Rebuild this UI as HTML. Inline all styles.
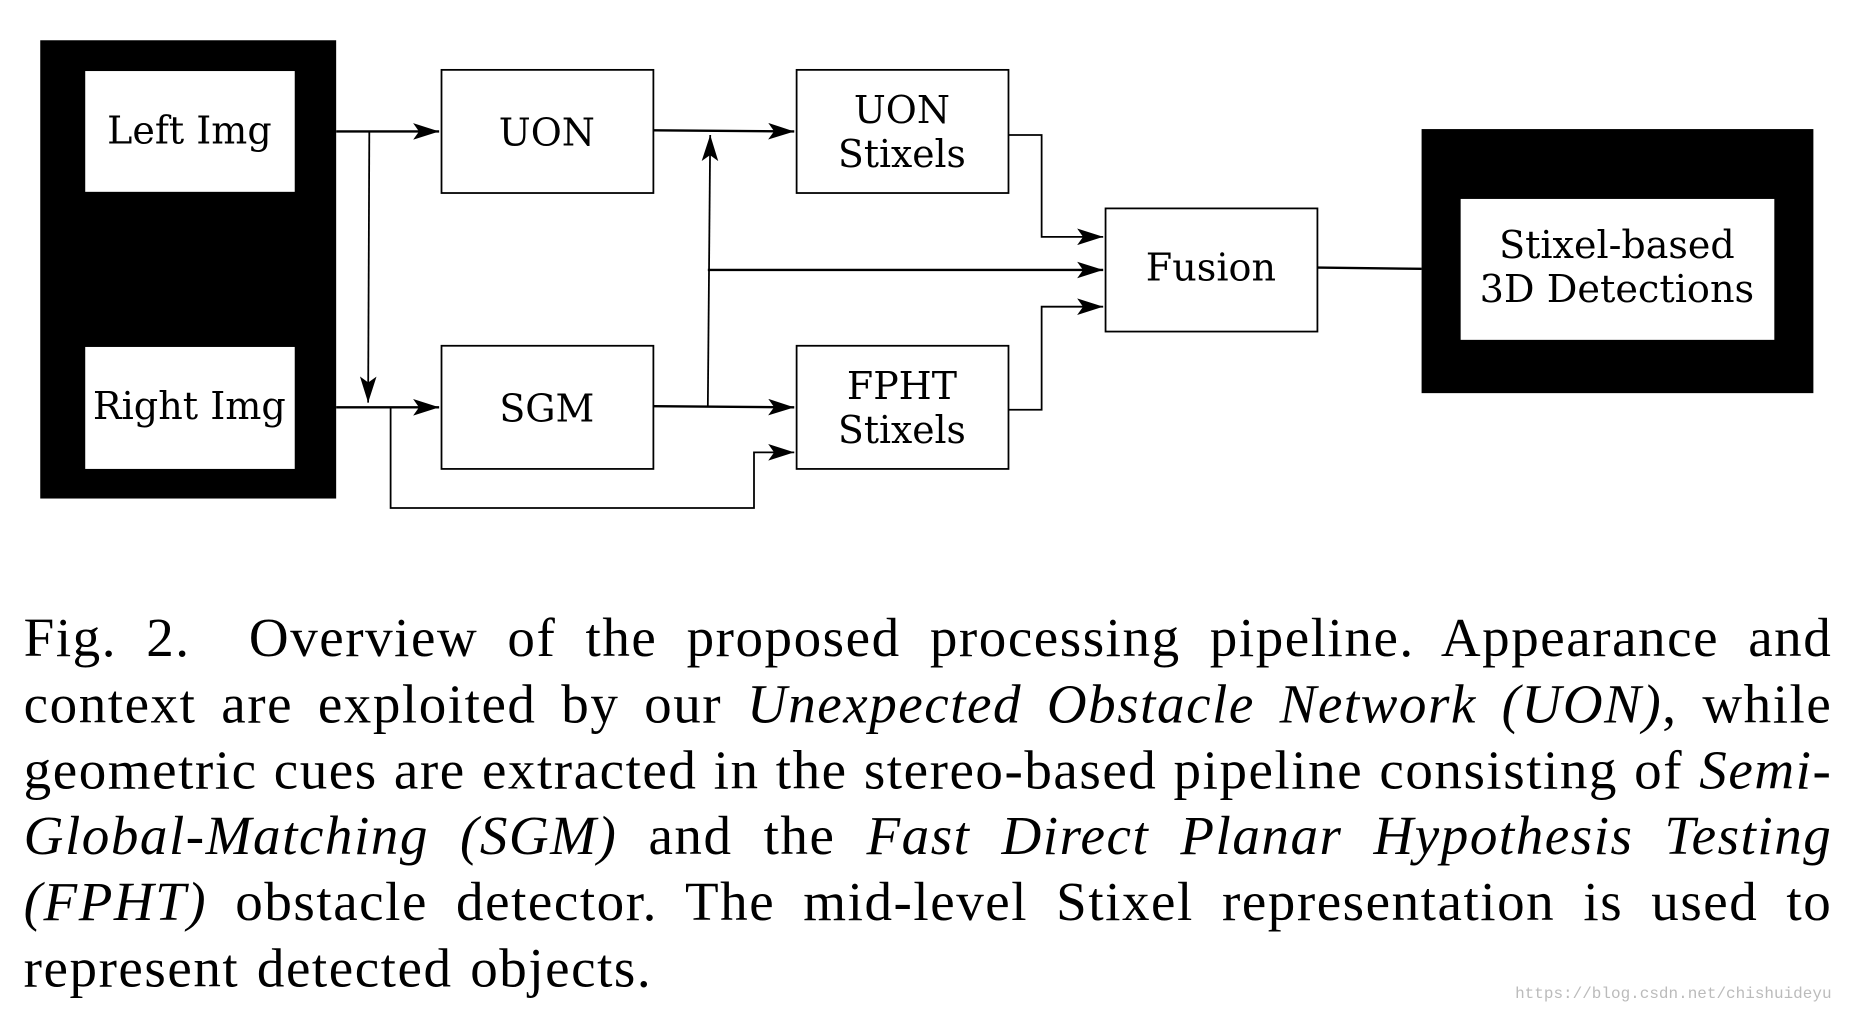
<!DOCTYPE html>
<html><head><meta charset="utf-8"><style>
html,body{margin:0;padding:0;background:#fff;overflow:hidden}
#wrap{position:absolute;left:0;top:0;width:1568px;height:858px;transform:scale(1.18367,1.18415);transform-origin:0 0}
#cap{position:absolute;left:20px;top:512px;width:1528px;font-family:"Liberation Serif",serif;font-size:46.5px;line-height:55.8px;color:#000;letter-spacing:1.3px}
#cap div{text-align:justify;text-align-last:justify;white-space:nowrap;height:55.8px}
#cap div.last{text-align:left;text-align-last:left;word-spacing:2px}
#wm{position:absolute;left:1280px;top:833px;font-family:"Liberation Mono",monospace;font-size:13.5px;color:#bbb}
</style></head><body><div id="wrap">
<svg width="1568" height="858" viewBox="0 0 1568 858" style="position:absolute;left:0;top:0">
<defs>
<marker id="b" markerWidth="22" markerHeight="14" refX="22" refY="7" orient="auto" markerUnits="userSpaceOnUse" viewBox="0 0 22 14"><path d="M0,0 L22,7 L0,14 L5,7 z" fill="#000"/></marker></defs>
<rect x="34" y="34" width="250" height="387" fill="#000"/>
<rect x="72" y="60" width="177" height="102" fill="#fff"/>
<rect x="72" y="293" width="177" height="103" fill="#fff"/>
<rect x="1201" y="109" width="331" height="223" fill="#000"/>
<rect x="1234" y="168" width="265" height="119" fill="#fff"/>
<g fill="#fff" stroke="#000" stroke-width="1.5">
<rect x="373" y="59" width="179" height="104"/>
<rect x="373" y="292" width="179" height="104"/>
<rect x="673" y="59" width="179" height="104"/>
<rect x="673" y="292" width="179" height="104"/>
<rect x="934" y="176" width="179" height="104"/>
</g>
<g stroke="#000" stroke-width="2" fill="none">
<line x1="284" y1="111" x2="371" y2="111" marker-end="url(#b)"/>
<line x1="312" y1="111" x2="311" y2="340" stroke-width="1.5" marker-end="url(#b)"/>
<line x1="284" y1="344" x2="371" y2="344" marker-end="url(#b)"/>
<polyline points="330,344 330,429 637,429 637,382 671,382" stroke-width="1.5" marker-end="url(#b)"/>
<line x1="552" y1="110" x2="671" y2="111" marker-end="url(#b)"/>
<line x1="552" y1="343" x2="671" y2="344" marker-end="url(#b)"/>
<line x1="598" y1="343" x2="600" y2="114" stroke-width="1.5" marker-end="url(#b)"/>
<line x1="598" y1="228" x2="932" y2="228" marker-end="url(#b)"/>
<polyline points="852,114 880,114 880,200 932,200" stroke-width="1.5" marker-end="url(#b)"/>
<polyline points="852,346 880,346 880,259 932,259" stroke-width="1.5" marker-end="url(#b)"/>
<line x1="1113" y1="226" x2="1201" y2="227"/>
</g>
<g font-family="'DejaVu Serif',serif" font-size="32" text-anchor="middle" fill="#000">
<text x="160" y="121" textLength="139" lengthAdjust="spacingAndGlyphs">Left Img</text>
<text x="160" y="354" textLength="163" lengthAdjust="spacingAndGlyphs">Right Img</text>
<text x="462" y="123">UON</text>
<text x="462" y="356">SGM</text>
<text x="762" y="104">UON</text>
<text x="762" y="141" textLength="108" lengthAdjust="spacingAndGlyphs">Stixels</text>
<text x="762" y="337">FPHT</text>
<text x="762" y="374" textLength="108" lengthAdjust="spacingAndGlyphs">Stixels</text>
<text x="1023" y="237" textLength="110" lengthAdjust="spacingAndGlyphs">Fusion</text>
<text x="1366" y="218" textLength="199" lengthAdjust="spacingAndGlyphs">Stixel-based</text>
<text x="1366" y="255" textLength="232" lengthAdjust="spacingAndGlyphs">3D Detections</text>
</g>
</svg>
<div id="cap">
<div>Fig. 2.&nbsp; Overview of the proposed processing pipeline. Appearance and</div>
<div>context are exploited by our <i>Unexpected Obstacle Network (UON)</i>, while</div>
<div>geometric cues are extracted in the stereo-based pipeline consisting of <i>Semi-</i></div>
<div><i>Global-Matching (SGM)</i> and the <i>Fast Direct Planar Hypothesis Testing</i></div>
<div><i>(FPHT)</i> obstacle detector. The mid-level Stixel representation is used to</div>
<div class="last">represent detected objects.</div>
</div>
<div id="wm">https://blog.csdn.net/chishuideyu</div>
</div></body></html>
